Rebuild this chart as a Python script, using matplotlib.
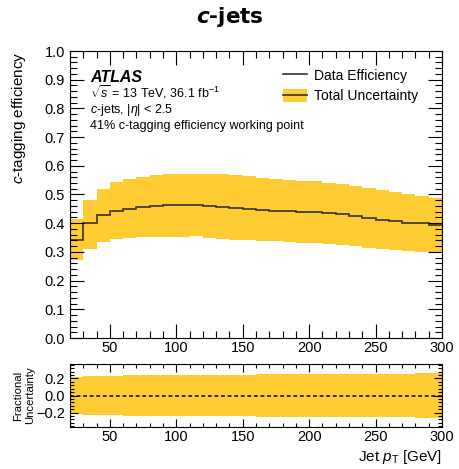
import matplotlib
matplotlib.use("Agg")
import matplotlib.pyplot as plt
from matplotlib.patches import Patch
from matplotlib.lines import Line2D
from matplotlib.ticker import MultipleLocator

plt.rcParams['font.family'] = ['Liberation Sans', 'DejaVu Sans']
plt.rcParams['mathtext.fontset'] = 'custom'
plt.rcParams['mathtext.rm'] = 'Liberation Sans'
plt.rcParams['mathtext.it'] = 'Liberation Sans:italic'
plt.rcParams['mathtext.bf'] = 'Liberation Sans:bold'

# ---- data ----
bin_edges = [20, 30, 40, 50, 60, 70, 80, 90, 100, 110, 120, 130, 140, 150, 160,
             170, 180, 190, 200, 210, 220, 230, 240, 250, 260, 270, 280, 290, 300]
efficiency = [0.343, 0.399, 0.428, 0.443, 0.450, 0.456, 0.460, 0.462, 0.463, 0.463,
              0.460, 0.456, 0.452, 0.448, 0.445, 0.444, 0.441, 0.440, 0.439, 0.436,
              0.431, 0.424, 0.418, 0.412, 0.407, 0.402, 0.399, 0.393]
unc_upper = [0.414, 0.482, 0.520, 0.542, 0.553, 0.562, 0.567, 0.570, 0.573, 0.573,
             0.573, 0.573, 0.567, 0.563, 0.559, 0.555, 0.552, 0.548, 0.547, 0.541,
             0.536, 0.529, 0.522, 0.516, 0.509, 0.502, 0.496, 0.489]
unc_lower = [0.271, 0.311, 0.334, 0.344, 0.348, 0.351, 0.352, 0.353, 0.353, 0.354,
             0.350, 0.346, 0.343, 0.340, 0.338, 0.337, 0.335, 0.332, 0.331, 0.329,
             0.323, 0.320, 0.315, 0.311, 0.308, 0.304, 0.301, 0.298]
frac_unc = [0.222, 0.226, 0.231, 0.233, 0.235, 0.237, 0.238, 0.240, 0.241, 0.242,
            0.243, 0.244, 0.245, 0.246, 0.247, 0.248, 0.249, 0.250, 0.251, 0.252,
            0.253, 0.254, 0.255, 0.256, 0.257, 0.258, 0.259, 0.260]

yellow = '#FFCC33'
linec = '#333333'

W, H = 460, 469
fig = plt.figure(figsize=(W / 100, H / 100), dpi=100)

def px_axes(l, t, r, b):
    return fig.add_axes([l / W, 1 - b / H, (r - l) / W, (b - t) / H])

ax = px_axes(70, 51, 442, 338)
rax = px_axes(70, 364, 442, 427)

ax.stairs(unc_upper, bin_edges, baseline=unc_lower, fill=True, color=yellow, lw=0)
ax.stairs(efficiency, bin_edges, color=linec, lw=1.2, baseline=None)
ax.set_xlim(20, 300)
ax.set_ylim(0, 1.0)
ax.xaxis.set_major_locator(MultipleLocator(50))
ax.xaxis.set_minor_locator(MultipleLocator(10))
ax.yaxis.set_major_locator(MultipleLocator(0.1))
ax.yaxis.set_minor_locator(MultipleLocator(0.02))
ax.set_ylabel(r'$\mathit{c}$-tagging efficiency', fontsize=11, loc='top', labelpad=12)

rax.stairs(frac_unc, bin_edges, baseline=[-v for v in frac_unc], fill=True, color=yellow, lw=0)
rax.axhline(0, color='black', lw=1.1, ls=(0, (2.5, 1.8)))
rax.set_xlim(20, 300)
rax.set_ylim(-0.37, 0.37)
rax.xaxis.set_major_locator(MultipleLocator(50))
rax.xaxis.set_minor_locator(MultipleLocator(10))
rax.yaxis.set_major_locator(MultipleLocator(0.2))
rax.yaxis.set_minor_locator(MultipleLocator(0.04))
rax.set_ylabel('Fractional\nUncertainty', fontsize=8.2, linespacing=1.2, labelpad=1)
rax.set_xlabel(r'Jet $p_{\mathrm{T}}$ [GeV]', fontsize=11, loc='right', labelpad=3)

for a, (ml, nl) in ((ax, (10, 5)), (rax, (6, 3))):
    a.tick_params(which='both', direction='in', top=True, right=True, labelsize=10.5, width=0.8)
    a.tick_params(which='major', length=ml)
    a.tick_params(which='minor', length=nl)
    a.tick_params(axis='x', which='both', pad=2)
    for s in a.spines.values():
        s.set_linewidth(0.8)
rax.tick_params(axis='y', which='major', length=6)
rax.tick_params(axis='y', which='minor', length=3)
ax.yaxis.set_major_formatter(matplotlib.ticker.FormatStrFormatter('%.1f'))
rax.yaxis.set_major_formatter(matplotlib.ticker.FuncFormatter(lambda v, p: f'{v:.1f}'.replace('-', '\u2212')))

# texts
ax.text(0.054, 0.893, 'ATLAS', transform=ax.transAxes, fontsize=11.5,
        fontweight='bold', fontstyle='italic', va='baseline')
ax.text(0.054, 0.838, r'$\sqrt{s}$ = 13 TeV, 36.1 fb$^{-1}$', transform=ax.transAxes,
        fontsize=9, va='baseline')
ax.text(0.054, 0.785, r'$\mathit{c}$-jets, |$\eta$| < 2.5', transform=ax.transAxes,
        fontsize=9, va='baseline')
ax.text(0.054, 0.728, '41% c-tagging efficiency working point', transform=ax.transAxes,
        fontsize=9, va='baseline')

handles = [Line2D([], [], color=linec, lw=1.2),
           (Patch(facecolor=yellow, edgecolor='none'), Line2D([], [], color=linec, lw=1.2))]
ax.legend(handles, ['Data Efficiency', 'Total Uncertainty'], loc='upper left',
          bbox_to_anchor=(0.573, 0.938), frameon=False, fontsize=10, borderpad=0,
          borderaxespad=0, handlelength=1.75, handleheight=1.0, handletextpad=0.45,
          labelspacing=0.45)

fig.text(0.5, 1 - 17 / H, r'$\boldsymbol{c}$-jets', ha='center', va='center',
         fontsize=15.5, fontweight='bold', family='DejaVu Sans', math_fontfamily='dejavusans')

fig.savefig('out.png', dpi=100)
